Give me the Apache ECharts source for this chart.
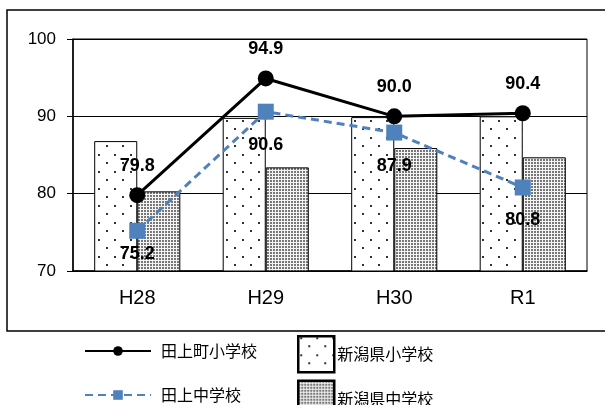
<!DOCTYPE html>
<html>
<head>
<meta charset="utf-8">
<script src="https://cdn.jsdelivr.net/npm/echarts@6/dist/echarts.min.js"></script>
<style>html,body{margin:0;padding:0;background:#fff}#c{width:605px;height:405px}</style>
</head>
<body>
<div id="c"></div>
<script>
var categories = ['H28', 'H29', 'H30', 'R1'];
var tagamiElem = [79.8, 94.9, 90.0, 90.4];
var tagamiJH = [75.2, 90.6, 87.9, 80.8];
var niigataElem = [86.8, 89.8, 89.9, 90.0];
var niigataJH = [80.3, 83.4, 85.9, 84.7];
var yTicks = [70, 80, 90, 100];

function sparse() {
  var c = document.createElement('canvas'); c.width = 16; c.height = 17;
  var g = c.getContext('2d');
  g.fillStyle = '#fff'; g.fillRect(0, 0, 16, 17);
  g.fillStyle = '#333';
  g.fillRect(2, 1, 2, 2); g.fillRect(10, 9, 2, 2);
  return c;
}
function dense() {
  var c = document.createElement('canvas'); c.width = 3; c.height = 3;
  var g = c.getContext('2d');
  g.fillStyle = '#f4f4f4'; g.fillRect(0, 0, 3, 3);
  g.fillStyle = '#777';
  g.fillRect(0, 0, 2, 2);
  return c;
}
var pSparse = { image: sparse(), repeat: 'repeat' };
var pDense = { image: dense(), repeat: 'repeat' };

var chart = echarts.init(document.getElementById('c'));
var labelFont = { fontFamily: 'Liberation Sans, Arial', fontWeight: 'bold', fontSize: 18, color: '#000' };
chart.setOption({
  animation: false,
  backgroundColor: '#fff',
  textStyle: { fontFamily: 'Liberation Sans, Arial' },
  graphic: [{
    type: 'rect', shape: { x: 7, y: 10, width: 620, height: 321 },
    style: { fill: 'none', stroke: '#000', lineWidth: 1.5 }, silent: true, z: -1
  }],
  grid: { left: 73, right: 18, top: 39, bottom: 134, show: true, borderColor: '#000', borderWidth: 1 },
  xAxis: {
    type: 'category', data: categories,
    axisLine: { lineStyle: { color: '#000', width: 1.5 } },
    axisTick: { length: 6, lineStyle: { color: '#000' } },
    axisLabel: { fontSize: 20, color: '#000', margin: 17, fontFamily: 'Liberation Sans, Arial' }
  },
  yAxis: {
    type: 'value', min: yTicks[0], max: yTicks[yTicks.length - 1], interval: 10,
    axisLine: { show: true, lineStyle: { color: '#000', width: 1.5 } },
    axisTick: { show: true, length: 6, lineStyle: { color: '#000' } },
    axisLabel: { fontSize: 17, color: '#000', margin: 17, fontFamily: 'Liberation Sans, Arial' },
    splitLine: { lineStyle: { color: '#000', width: 1 } }
  },
  legend: [{
    type: 'plain',
    data: ['田上町小学校', '田上中学校'],
    orient: 'vertical', left: 84, top: 343, height: 200, padding: 0, itemGap: 28, itemWidth: 66, itemHeight: 12,
    textStyle: { fontSize: 16, color: '#000', fontFamily: 'Noto Sans CJK JP', padding: [0, 0, 0, 5] }
  }, {
    type: 'plain',
    data: [{ name: '新潟県小学校', icon: 'rect' }, { name: '新潟県中学校', icon: 'rect' }],
    orient: 'vertical', left: 297, top: 335, height: 200, padding: 0, itemGap: 6, itemWidth: 36, itemHeight: 36,
    itemStyle: { borderColor: '#000', borderWidth: 2.5 },
    textStyle: { fontSize: 16, color: '#000', fontFamily: 'Noto Sans CJK JP', padding: [0, 0, 0, -2] }
  }],
  series: [{
    name: '新潟県小学校', type: 'bar', data: niigataElem,
    barGap: '0%', barCategoryGap: '33%',
    itemStyle: { color: pSparse, borderColor: '#000', borderWidth: 1 }
  }, {
    name: '新潟県中学校', type: 'bar', data: niigataJH,
    barGap: '0%', barCategoryGap: '33%',
    itemStyle: { color: pDense, borderColor: '#000', borderWidth: 1 }
  }, {
    name: '田上町小学校', type: 'line', data: tagamiElem, z: 5,
    symbol: 'circle', symbolSize: 16,
    lineStyle: { color: '#000', width: 3 },
    itemStyle: { color: '#000' },
    label: Object.assign({ show: true, position: 'top', distance: 12, formatter: function (p) { return p.value.toFixed(1); } }, labelFont)
  }, {
    name: '田上中学校', type: 'line', z: 6,
    data: tagamiJH.map(function (v, i) { return { value: v, label: { distance: i === 0 ? 6 : 16 } }; }),
    symbol: 'rect', symbolSize: 16,
    lineStyle: { color: '#4F81BD', width: 3, type: [8, 5] },
    itemStyle: { color: '#4F81BD' },
    label: Object.assign({ show: true, position: 'bottom', formatter: function (p) { return p.value.toFixed(1); } }, labelFont)
  }]
});
</script>
</body>
</html>
